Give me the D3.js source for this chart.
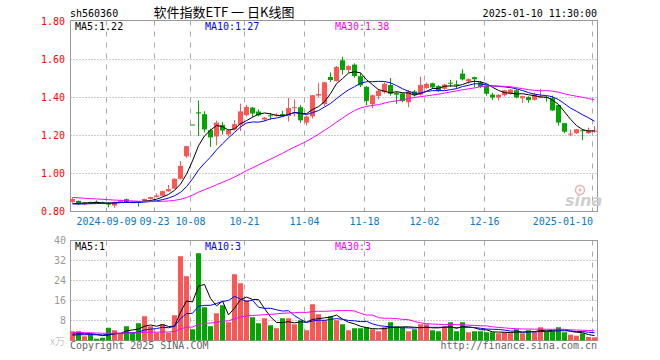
<!DOCTYPE html>
<html>
<head>
<meta charset="utf-8">
<script src="https://cdn.jsdelivr.net/npm/d3@7"></script>
<style>
body { margin: 0; background: #fff; }
</style>
</head>
<body>
<svg id="chart" width="660" height="360"></svg>
<script>
// trading days shown (2024-08-30 .. 2025-01-10)
var dates = [
  "2024-08-30","2024-09-02","2024-09-03","2024-09-04","2024-09-05","2024-09-06","2024-09-09","2024-09-10","2024-09-11","2024-09-12",
  "2024-09-13","2024-09-18","2024-09-19","2024-09-20","2024-09-23","2024-09-24","2024-09-25","2024-09-26","2024-09-27","2024-09-30",
  "2024-10-08","2024-10-09","2024-10-10","2024-10-11","2024-10-14","2024-10-15","2024-10-16","2024-10-17","2024-10-18","2024-10-21",
  "2024-10-22","2024-10-23","2024-10-24","2024-10-25","2024-10-28","2024-10-29","2024-10-30","2024-10-31","2024-11-01","2024-11-04",
  "2024-11-05","2024-11-06","2024-11-07","2024-11-08","2024-11-11","2024-11-12","2024-11-13","2024-11-14","2024-11-15","2024-11-18",
  "2024-11-19","2024-11-20","2024-11-21","2024-11-22","2024-11-25","2024-11-26","2024-11-27","2024-11-28","2024-11-29","2024-12-02",
  "2024-12-03","2024-12-04","2024-12-05","2024-12-06","2024-12-09","2024-12-10","2024-12-11","2024-12-12","2024-12-13","2024-12-16",
  "2024-12-17","2024-12-18","2024-12-19","2024-12-20","2024-12-23","2024-12-24","2024-12-25","2024-12-26","2024-12-27","2024-12-30",
  "2024-12-31","2025-01-02","2025-01-03","2025-01-06","2025-01-07","2025-01-08","2025-01-09","2025-01-10"
];

var open = [
  0.850,0.856,0.838,0.849,0.851,0.849,0.846,0.831,0.848,0.865,
  0.852,0.850,0.851,0.866,0.876,0.883,0.906,0.920,0.972,1.090,
  1.258,1.322,1.312,1.228,1.195,1.256,1.205,1.232,1.256,1.307,
  1.347,1.326,1.284,1.306,1.305,1.313,1.302,1.345,1.349,1.268,
  1.301,1.410,1.365,1.508,1.487,1.596,1.545,1.573,1.512,1.456,
  1.365,1.408,1.428,1.466,1.425,1.421,1.375,1.432,1.415,1.450,
  1.475,1.460,1.446,1.478,1.470,1.526,1.485,1.507,1.480,1.462,
  1.415,1.400,1.412,1.421,1.438,1.396,1.403,1.388,1.403,1.402,
  1.396,1.360,1.265,1.208,1.212,1.228,1.212,1.220
];
var high = [
  0.874,0.858,0.850,0.852,0.858,0.853,0.848,0.853,0.862,0.868,
  0.855,0.853,0.868,0.878,0.895,0.910,0.940,0.975,1.066,1.144,
  1.258,1.384,1.328,1.236,1.278,1.270,1.232,1.281,1.368,1.362,
  1.350,1.337,1.297,1.318,1.318,1.330,1.398,1.390,1.361,1.305,
  1.414,1.477,1.482,1.532,1.566,1.614,1.570,1.580,1.530,1.460,
  1.415,1.445,1.480,1.503,1.430,1.425,1.440,1.440,1.510,1.478,
  1.478,1.465,1.472,1.493,1.490,1.549,1.500,1.510,1.487,1.465,
  1.425,1.418,1.440,1.445,1.445,1.410,1.406,1.426,1.445,1.408,
  1.410,1.362,1.266,1.231,1.235,1.232,1.242,1.249
];
var low = [
  0.846,0.834,0.834,0.840,0.845,0.843,0.822,0.820,0.846,0.848,
  0.845,0.826,0.849,0.862,0.874,0.880,0.904,0.918,0.968,1.083,
  1.258,1.198,1.216,1.140,1.148,1.204,1.195,1.226,1.223,1.300,
  1.297,1.300,1.276,1.283,1.300,1.298,1.274,1.300,1.267,1.253,
  1.290,1.400,1.355,1.482,1.484,1.521,1.530,1.505,1.455,1.360,
  1.343,1.390,1.420,1.410,1.367,1.375,1.349,1.405,1.410,1.445,
  1.445,1.430,1.440,1.455,1.446,1.490,1.472,1.455,1.450,1.410,
  1.386,1.384,1.405,1.415,1.395,1.372,1.372,1.384,1.400,1.378,
  1.330,1.251,1.212,1.196,1.208,1.175,1.208,1.214
];
var close = [
  0.866,0.838,0.847,0.844,0.848,0.846,0.836,0.850,0.858,0.850,
  0.848,0.849,0.866,0.876,0.884,0.907,0.918,0.972,1.040,1.144,
  1.258,1.316,1.232,1.190,1.268,1.226,1.228,1.260,1.327,1.350,
  1.316,1.306,1.294,1.303,1.310,1.302,1.344,1.349,1.280,1.300,
  1.412,1.418,1.480,1.492,1.561,1.545,1.566,1.513,1.464,1.382,
  1.412,1.436,1.472,1.420,1.415,1.382,1.432,1.412,1.466,1.472,
  1.453,1.438,1.468,1.475,1.466,1.495,1.497,1.496,1.456,1.420,
  1.400,1.414,1.438,1.441,1.400,1.407,1.386,1.415,1.405,1.398,
  1.332,1.268,1.220,1.210,1.233,1.226,1.228,1.226
];
// volume, 万
var volume = [
  3.7,3.7,1.7,2.5,0.7,1.1,5.1,4.1,3.1,5.7,
  3.1,6.9,9.7,5.7,3.1,6.5,3.1,10.1,33.7,25.7,
  4.5,34.9,13.3,5.7,10.9,14.1,7.3,26.5,22.9,16.1,
  9.3,6.9,8.9,6.1,4.9,8.9,8.9,6.5,8.1,4.1,
  14.5,10.5,8.1,9.7,8.1,6.5,4.1,4.9,4.9,5.3,
  4.5,3.7,5.3,7.3,5.7,5.3,3.7,4.5,6.5,6.5,
  4.1,3.7,5.7,7.3,3.7,7.3,3.3,3.7,3.7,3.3,
  3.3,2.9,3.3,2.9,4.5,2.9,4.1,3.3,5.3,3.7,
  3.7,5.3,3.3,2.3,1.9,2.9,1.4,1.3
];
// 29 sessions before the first shown day, only used for the moving averages
var preClose = [
  0.905,0.910,0.900,0.895,0.905,0.900,0.910,0.900,0.895,0.900,0.900,0.910,
  0.880,0.875,0.870,0.870,0.875,0.880,0.870,0.870,
  0.845,0.840,0.835,0.840,0.835,0.830,0.835,0.840,0.835
];
var preVolume = [
  3.5,4.0,3.8,3.6,4.2,3.9,3.5,3.7,4.0,3.6,3.8,3.9,3.4,3.7,3.9,3.6,3.8,3.7,4.0,3.4,
  1.8,1.6,1.7,1.9,1.5,
  2.4,2.0,2.3,2.1
];

var tickDates = ["2024-09-09","2024-09-23","2024-10-08","2024-10-21","2024-11-04","2024-11-18","2024-12-02","2024-12-16","2025-01-10"];
var tickLabels = ["2024-09-09","09-23","10-08","10-21","11-04","11-18","12-02","12-16","2025-01-10"];
var priceTicks = [0.8, 1.0, 1.2, 1.4, 1.6, 1.8];
var volTicks = [8, 16, 24, 32, 40];
var maPeriods = [5, 10, 30];
var maColors = ["#000000", "#0000ff", "#ff00ff"];

var svg = d3.select("#chart");
var mono = "'DejaVu Sans Mono', monospace";
var upColor = "#ff5555", downColor = "#00a600";

var x = d3.scaleLinear().domain([0, dates.length - 1]).range([72.5, 72.5 + 6 * (dates.length - 1)]);
var yP = d3.scaleLinear().domain([0.8, 1.8]).range([211.5, 21.5]);
var yV = d3.scaleLinear().domain([0, 40]).range([340.5, 240.5]);

var left = 70.5, right = 597.5;

function movingAvg(all, n, offset) {
  return d3.range(offset, all.length).map(function(k) {
    return d3.mean(all.slice(k - n + 1, k + 1));
  });
}
var allClose = preClose.concat(close), allVol = preVolume.concat(volume);
var priceMA = maPeriods.map(function(n) { return movingAvg(allClose, n, preClose.length); });
var volMA = maPeriods.map(function(n) { return movingAvg(allVol, n, preVolume.length); });

function isUp(i) { return close[i] > open[i]; }

// header
svg.append("text").attr("x", 70).attr("y", 17).attr("font-family", mono).attr("font-size", "10px")
   .text("sh560360");
svg.append("text").attr("x", 224).attr("y", 17).attr("text-anchor", "middle")
   .attr("font-family", "'Noto Sans CJK SC', sans-serif").attr("font-size", "13px")
   .text("软件指数ETF 一 日K线图");
svg.append("text").attr("x", 597).attr("y", 17).attr("text-anchor", "end")
   .attr("font-family", mono).attr("font-size", "10px")
   .text("2025-01-10 11:30:00");

// grids
var tickIdx = tickDates.map(function(d) { return dates.indexOf(d); });

function panelGrid(yScale, ticks, top, bottom) {
  var g = svg.append("g");
  g.selectAll(".h").data(ticks.filter(function(t) { return yScale(t) > top + 1 && yScale(t) < bottom - 1; }))
   .enter().append("line")
   .attr("x1", left).attr("x2", right)
   .attr("y1", function(d) { return yScale(d); }).attr("y2", function(d) { return yScale(d); })
   .attr("stroke", "#999").attr("stroke-dasharray", "1,2");
  g.selectAll(".v").data(tickIdx).enter().append("line")
   .attr("x1", function(d) { return x(d) - 2; }).attr("x2", function(d) { return x(d) - 2; })
   .attr("y1", top).attr("y2", bottom)
   .attr("stroke", "#aaa").attr("stroke-dasharray", "5,6");
  g.append("rect").attr("x", left).attr("y", top).attr("width", right - left).attr("height", bottom - top)
   .attr("fill", "none").attr("stroke", "#999");
}
panelGrid(yP, priceTicks, 20.5, 211.5);
panelGrid(yV, volTicks, 240.5, 340.5);

// watermark
var wm = svg.append("g");
wm.append("circle").attr("cx", 580).attr("cy", 190).attr("r", 4.5).attr("fill", "none")
  .attr("stroke", "#f3b0b0").attr("stroke-width", 1.5);
wm.append("circle").attr("cx", 580).attr("cy", 190).attr("r", 1.5).attr("fill", "#f3b0b0");
wm.append("text").attr("x", 565).attr("y", 206).attr("font-family", "'DejaVu Sans', sans-serif")
  .attr("font-size", "16px").attr("font-weight", "bold").attr("font-style", "italic")
  .attr("fill", "#cfcfcf").text("sina");

// price axis
var axP = svg.append("g").attr("transform", "translate(70,0)")
  .call(d3.axisLeft(yP).tickValues(priceTicks).tickFormat(d3.format(".2f")).tickSize(0).tickPadding(5));
axP.select(".domain").remove();
axP.selectAll("text").attr("fill", "#ff0000").attr("font-family", mono).attr("font-size", "10px");

// volume axis
var axV = svg.append("g").attr("transform", "translate(70,0)")
  .call(d3.axisLeft(yV).tickValues(volTicks).tickSize(0).tickPadding(4));
axV.select(".domain").remove();
axV.selectAll("text").attr("fill", "#999").attr("font-family", mono).attr("font-size", "10px");
svg.append("text").attr("x", 65).attr("y", 345).attr("text-anchor", "end")
   .attr("font-family", "'Noto Sans CJK SC', sans-serif").attr("font-size", "10px")
   .attr("fill", "#c8c8c8").text("x万");

// date labels
tickIdx.forEach(function(idx, k) {
  var t = svg.append("text").attr("y", 225).attr("font-family", mono).attr("font-size", "10px")
    .attr("fill", "#0a78c8").attr("text-anchor", "middle").attr("x", x(idx) - 2).text(tickLabels[k]);
  var w = t.node().getComputedTextLength();
  if (x(idx) - 2 + w / 2 > 593) t.attr("text-anchor", "end").attr("x", 593);
});

// candles
var candles = svg.append("g").selectAll("g").data(d3.range(dates.length)).enter().append("g");
candles.append("line")
  .attr("x1", function(i) { return x(i); }).attr("x2", function(i) { return x(i); })
  .attr("y1", function(i) { return yP(high[i]); }).attr("y2", function(i) { return yP(low[i]); })
  .attr("stroke", function(i) { return isUp(i) ? upColor : downColor; });
candles.append("rect")
  .attr("x", function(i) { return x(i) - 2.5; }).attr("width", 5)
  .attr("y", function(i) { return yP(Math.max(open[i], close[i])); })
  .attr("height", function(i) { return Math.max(1, Math.abs(yP(open[i]) - yP(close[i]))); })
  .attr("fill", function(i) { return isUp(i) ? upColor : downColor; });

// volume bars
svg.append("g").selectAll("rect").data(volume).enter().append("rect")
  .attr("x", function(d, i) { return x(i) - 2.5; }).attr("width", 5)
  .attr("y", function(d) { return yV(d); })
  .attr("height", function(d) { return yV(0) - yV(d); })
  .attr("fill", function(d, i) { return isUp(i) ? upColor : downColor; });

// moving averages
priceMA.forEach(function(vals, k) {
  svg.append("path").datum(vals).attr("fill", "none").attr("stroke", maColors[k]).attr("stroke-width", 1)
    .attr("d", d3.line().x(function(d, i) { return x(i); }).y(function(d) { return yP(d); }));
});
volMA.forEach(function(vals, k) {
  svg.append("path").datum(vals).attr("fill", "none").attr("stroke", maColors[k]).attr("stroke-width", 1)
    .attr("d", d3.line().x(function(d, i) { return x(i); }).y(function(d) { return yV(d); }));
});

// legends
var legendX = [75, 205, 335];
maPeriods.forEach(function(n, k) {
  var pv = priceMA[k][priceMA[k].length - 1];
  var vv = volMA[k][volMA[k].length - 1];
  svg.append("text").attr("x", legendX[k]).attr("y", 30).attr("font-family", mono).attr("font-size", "10px")
    .attr("fill", maColors[k]).text("MA" + n + ":" + (Math.floor(pv * 100) / 100).toFixed(2));
  svg.append("text").attr("x", legendX[k]).attr("y", 250).attr("font-family", mono).attr("font-size", "10px")
    .attr("fill", maColors[k]).text("MA" + n + ":" + Math.floor(vv));
});

// footer
svg.append("text").attr("x", 70).attr("y", 349).attr("font-family", mono).attr("font-size", "10px")
   .attr("fill", "#666").text("Copyright 2025 SINA.COM");
svg.append("text").attr("x", 597).attr("y", 349).attr("text-anchor", "end").attr("font-family", mono)
   .attr("font-size", "10px").attr("fill", "#666").text("http://finance.sina.com.cn");
</script>
</body>
</html>
